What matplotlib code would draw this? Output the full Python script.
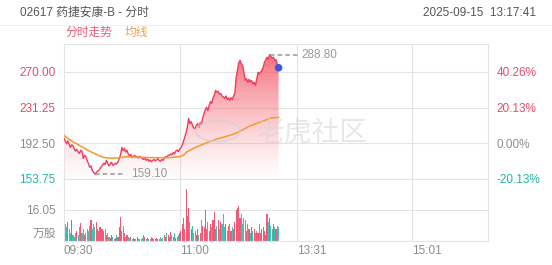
import matplotlib
matplotlib.use("Agg")
import matplotlib.pyplot as plt
import numpy as np
from matplotlib.patches import Circle

plt.rcParams['font.family'] = ['Liberation Sans', 'Noto Sans CJK SC', 'DejaVu Sans']

# ---------------- data ----------------
title = "02617 药捷安康-B - 分时"
timestamp = "2025-09-15  13:17:41"
prev_close = 192.50
price_ticks = [153.75, 192.50, 231.25, 270.00]
time_tick_pos = [0, 90, 181, 271]
time_tick_labels = ["09:30", "11:00", "13:31", "15:01"]
total_minutes = 330
vol_max_tick = 16.05
high_value = 288.80
low_value = 159.10

price = [
    197.9, 195.0, 192.0, 195.2, 191.5, 188.0, 191.0, 190.0, 186.5, 184.0,
    186.0, 183.0, 181.6, 185.0, 184.0, 176.0, 179.5, 178.0, 174.0, 170.5,
    166.5, 168.0, 163.0, 161.0, 159.1, 160.5, 162.0, 163.0, 165.0, 167.0,
    168.6, 171.0, 169.5, 174.0, 171.0, 168.0, 170.0, 172.0, 168.6, 169.5,
    171.0, 170.0, 172.0, 176.0, 180.0, 188.0, 184.5, 187.0, 183.0, 185.0,
    181.0, 179.0, 180.5, 177.0, 178.0, 179.5, 177.5, 178.0, 176.5, 178.4,
    177.0, 176.0, 175.0, 176.5, 174.0, 175.5, 173.0, 174.5, 172.5, 174.0,
    175.0, 173.5, 174.5, 176.0, 174.0, 173.0, 175.0, 174.0, 176.0, 178.0,
    177.0, 179.5, 179.5, 181.0, 180.0, 182.5, 181.0, 184.0, 185.0, 183.5,
    186.0, 188.0, 190.0, 195.0, 199.0, 204.0, 210.0, 219.6, 214.0, 216.0,
    212.0, 209.0, 208.8, 212.0, 214.0, 210.0, 215.0, 213.0, 220.0, 225.0,
    229.0, 231.6, 228.0, 233.7, 238.0, 236.0, 242.0, 245.0, 250.0, 248.0,
    249.0, 246.0, 246.8, 244.0, 243.0, 241.3, 244.0, 240.0, 242.0, 239.0,
    242.0, 240.0, 244.0, 246.8, 264.0, 272.0, 280.0, 282.6, 279.0, 277.0,
    270.0, 260.9, 263.0, 258.7, 262.0, 259.0, 260.9, 257.0, 259.0, 255.4,
    262.0, 269.6, 268.0, 270.0, 271.7, 275.0, 280.4, 283.0, 286.0, 284.0,
    288.8, 287.0, 285.0, 286.0, 282.6, 283.5, 278.0, 274.6,
]

avg_price = [
    201.0, 200.0, 199.0, 198.0, 197.0, 196.0, 195.0, 194.2, 193.4, 192.6,
    191.8, 191.0, 190.3, 189.5, 188.7, 187.9, 187.1, 186.3, 185.5, 184.7,
    183.9, 183.2, 182.7, 182.0, 181.3, 180.6, 180.0, 179.3, 178.7, 178.1,
    177.6, 177.3, 177.0, 176.8, 176.6, 176.5, 176.4, 176.3, 176.3, 176.4,
    176.5, 176.6, 176.7, 176.9, 177.1, 177.4, 177.6, 177.7, 177.8, 177.8,
    177.8, 177.8, 177.7, 177.7, 177.6, 177.6, 177.5, 177.5, 177.4, 177.4,
    177.3, 177.3, 177.2, 177.2, 177.1, 177.1, 177.0, 177.0, 176.9, 176.9,
    176.9, 176.8, 176.8, 176.8, 176.8, 176.8, 176.8, 176.8, 176.8, 176.9,
    176.9, 177.0, 177.0, 177.1, 177.2, 177.3, 177.4, 177.5, 177.7, 177.9,
    178.1, 178.4, 179.0, 180.0, 181.0, 182.5, 183.5, 184.3, 185.0, 185.8,
    186.5, 187.2, 187.8, 188.4, 189.0, 189.6, 190.3, 190.9, 191.5, 192.0,
    192.6, 193.2, 193.8, 194.3, 194.8, 195.3, 195.8, 196.2, 196.7, 197.1,
    197.5, 197.9, 198.3, 198.7, 199.1, 199.5, 199.9, 200.3, 200.6, 201.0,
    201.5, 202.0, 202.5, 203.0, 203.6, 204.3, 205.0, 205.7, 206.4, 207.1,
    207.9, 208.7, 209.5, 210.2, 210.9, 211.5, 212.1, 212.6, 213.1, 213.7,
    214.2, 214.7, 215.2, 215.7, 216.2, 216.8, 217.3, 217.8, 218.4, 219.0,
    219.6, 219.9, 220.2, 220.4, 220.5, 220.6, 220.7, 220.7,
]

volume = [
    15, 9, 7, 10, 6, 4, 11, 3, 2, 4,
    5, 3, 7, 9.5, 4, 6, 3, 4, 6, 5,
    8, 11, 6, 9, 7, 10, 6, 5, 7, 6,
    6, 5, 6, 3, 4, 2, 1.5, 3, 2, 1,
    1.5, 3, 2, 7, 12.5, 5, 8, 4, 2, 3,
    2, 1.5, 2, 1, 1.5, 1, 1, 2, 1, 1,
    1, 1.5, 3, 2, 1, 1.5, 1, 1, 2, 1.5,
    1, 1, 1.5, 1, 1, 2, 1, 1.5, 3, 2,
    4, 3, 2, 4.5, 3, 2, 4, 1.5, 2, 3,
    4, 5, 9, 12, 6, 27, 13, 17, 10, 6,
    8, 4, 5, 3, 6, 3, 4, 11, 8, 7,
    16, 6, 10, 5, 9, 7, 11, 15, 6, 8,
    11, 6, 10, 9, 14, 7, 9, 5, 8, 9,
    5, 7, 6, 10, 16, 17, 18, 12, 14, 9,
    12, 11, 5, 9, 6, 4, 7, 5, 6, 4,
    5, 4, 9, 4, 6, 7, 5, 3, 14, 10,
    12, 8, 6, 9, 7, 6, 8, 7,
]

# ---------------- style ----------------
RED = "#ef3d5e"
TEAL = "#22b5a5"
ORANGE = "#f29a2e"
GRAY = "#8c8c8c"
GRID = "#e4e4e4"

W, H = 552, 265
fig = plt.figure(figsize=(W / 100, H / 100), dpi=100)

def fx(px):
    return px / W

def fy(py):
    return 1 - py / H

left_px, right_px = 64, 488
main_top, main_bot = 44, 179
vol_top, vol_bot = 179, 241

ax = fig.add_axes([fx(left_px), fy(main_bot), fx(right_px - left_px), (main_bot - main_top) / H])
axv = fig.add_axes([fx(left_px), fy(vol_bot), fx(right_px - left_px), (vol_bot - vol_top) / H])

x = np.arange(len(price))
step = price_ticks[2] - price_ticks[1]
px_per_step = 35.67
ymin = price_ticks[0]
ymax = ymin + (main_bot - main_top) / px_per_step * step

ax.set_xlim(0, total_minutes)
ax.set_ylim(ymin, ymax)
axv.set_xlim(0, total_minutes)
axv.set_ylim(0, vol_max_tick * 2)

for a in (ax, axv):
    for s in a.spines.values():
        s.set_color(GRID)
        s.set_linewidth(0.8)
    a.tick_params(length=0)

# grid lines
for t in price_ticks[1:]:
    ax.axhline(t, color=GRID, lw=0.8, zorder=0)
axv.axhline(vol_max_tick, color=GRID, lw=0.8, zorder=0)
for p in time_tick_pos[1:]:
    ax.axvline(p, color=GRID, lw=0.8, zorder=0)
    axv.axvline(p, color=GRID, lw=0.8, zorder=0)

# gradient fill under price
poly = ax.fill_between(x, price, ymin, color="none", lw=0)
grad = np.linspace(0, 1, 256).reshape(-1, 1)
rgba = np.zeros((256, 1, 4))
rgba[..., 0] = 0.96
rgba[..., 1] = 0.30
rgba[..., 2] = 0.36
rgba[..., 3] = (0.02 + 0.78 * grad[:, :] ** 1.3)
img = ax.imshow(rgba, extent=[0, len(price) - 1, ymin, max(price)], origin="lower",
                aspect="auto", zorder=1, interpolation="bilinear")
img.set_clip_path(poly.get_paths()[0], transform=ax.transData)

ax.plot(x, price, color=RED, lw=1.0, zorder=3)
ax.plot(x, avg_price, color=ORANGE, lw=1.1, zorder=3)
ax.scatter([x[-1]], [price[-1]], s=30, color="#3a5bd6", zorder=5, edgecolors="none")

# high / low annotations
hi_i = int(np.argmax(price))
lo_i = int(np.argmin(price))
ax.plot([hi_i, hi_i + 22], [high_value, high_value], color="#999999", lw=1.1, ls=(0, (3, 2)), zorder=4)
ax.text(hi_i + 25, high_value, f"{high_value:.2f}", color="#999999", fontsize=8.5, va="center", ha="left")
ax.plot([lo_i, lo_i + 23], [low_value, low_value], color="#999999", lw=1.1, ls=(0, (3, 2)), zorder=4)
ax.text(lo_i + 28, low_value, f"{low_value:.2f}", color="#999999", fontsize=8.5, va="center", ha="left")

# left price labels
ax.set_yticks(price_ticks)
ax.set_yticklabels([f"{t:.2f}" for t in price_ticks], fontsize=8.5)
ax.tick_params(axis="y", pad=6)
for lbl, t in zip(ax.get_yticklabels(), price_ticks):
    lbl.set_color("#e8496b" if t > prev_close else (GRAY if t == prev_close else TEAL))
ax.set_xticks([])

# right percent labels
axr = ax.twinx()
axr.set_ylim(ax.get_ylim())
axr.set_yticks(price_ticks)
pct = [(t - prev_close) / prev_close * 100 for t in price_ticks]
axr.set_yticklabels([f"{p:.2f}%" for p in pct], fontsize=8.5)
axr.tick_params(axis="y", length=0, pad=6)
for lbl, p in zip(axr.get_yticklabels(), pct):
    lbl.set_color("#e8496b" if p > 0.001 else (GRAY if abs(p) < 0.001 else TEAL))
for s in axr.spines.values():
    s.set_visible(False)

# volume bars
vcolors = [RED if (i == 0 and price[0] >= prev_close) or (i > 0 and price[i] >= price[i - 1]) else TEAL
           for i in range(len(volume))]
axv.bar(np.arange(len(volume)), volume, width=0.85, color=vcolors, alpha=0.85, lw=0, zorder=2)
axv.set_yticks([vol_max_tick])
axv.set_yticklabels([f"{vol_max_tick:.2f}"], fontsize=8.5, color=GRAY)
axv.tick_params(axis="y", pad=6)
axv.annotate("万股", xy=(0, 0), xycoords="axes fraction", xytext=(-6, 5), textcoords="offset points",
             ha="right", va="center", fontsize=8.5, color=GRAY)
axv.set_xticks(time_tick_pos)
axv.set_xticklabels(time_tick_labels, fontsize=8.5, color=GRAY, ha="left")
axv.tick_params(axis="x", pad=3)

# watermark
fig.patches.append(Circle((fx(218), fy(131)), 22 / W, transform=fig.transFigure,
                          fill=False, ec="#d0d0d0", lw=1.5, alpha=0.6, zorder=10,
                          ))
fig.text(fx(312), fy(134), "老虎社区", fontsize=20, color="#d4d4d4", alpha=0.55,
         ha="center", va="center", zorder=10)

# header
fig.text(fx(20), fy(13), title, fontsize=8.5, color="#555555", ha="left", va="center")
fig.text(fx(536), fy(13), timestamp, fontsize=8.5, color="#555555", ha="right", va="center")
fig.add_artist(plt.Line2D([0, 1], [fy(24.5), fy(24.5)], transform=fig.transFigure, color="#f0f0f0", lw=0.8))
fig.text(fx(65), fy(33), "分时走势", fontsize=8.5, color="#ef5a78", ha="left", va="center")
fig.text(fx(125), fy(33), "均线", fontsize=8.5, color="#f3a048", ha="left", va="center")

fig.savefig("out.png", dpi=100)
